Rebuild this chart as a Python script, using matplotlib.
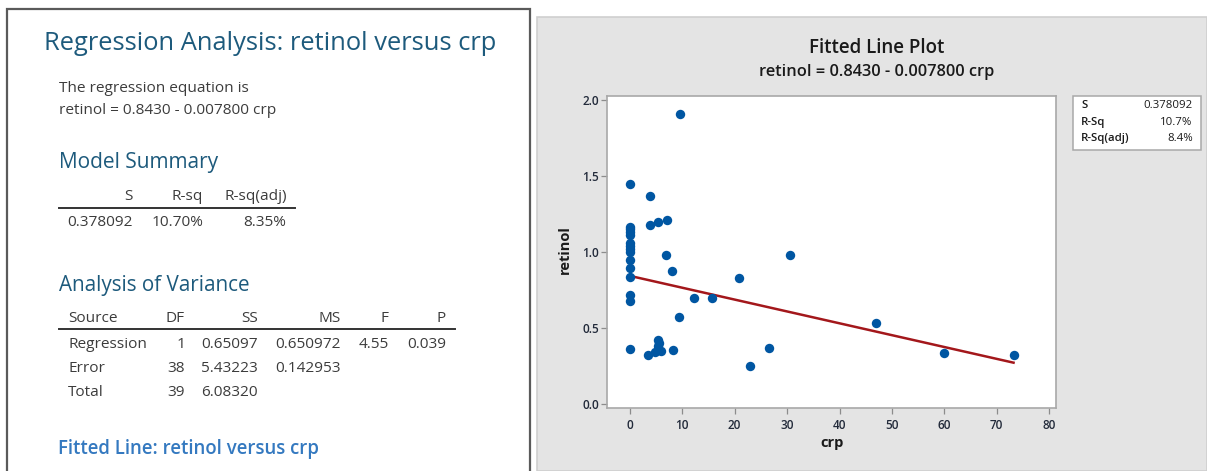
import matplotlib
matplotlib.use('Agg')
import matplotlib.pyplot as plt
from matplotlib.patches import Rectangle
import numpy as np

W, H = 1207, 471

# points
crp = [0, 0, 0, 0, 0, 0, 0, 0, 0, 0, 0, 0, 0, 0, 0,
       9.54, 3.94, 3.94, 5.41, 7.13, 6.87, 7.95, 20.87, 30.5, 12.28,
       15.7, 9.35, 46.9, 60.0, 73.2, 8.27, 26.5, 22.9, 3.5,
       5.4, 5.4, 4.8, 5.9, 5.3, 5.6]
retinol = [1.445, 1.165, 1.15, 1.13, 1.115, 1.06, 1.04, 1.02, 1.0, 0.947,
           0.893, 0.838, 0.715, 0.68, 0.362,
           1.906, 1.368, 1.18, 1.195, 1.21, 0.978, 0.875, 0.829, 0.978, 0.697,
           0.697, 0.572, 0.533, 0.338, 0.322, 0.353, 0.370, 0.252, 0.320,
           0.421, 0.384, 0.344, 0.349, 0.358, 0.40]

b0 = 0.8430
b1 = -0.007800

stats_labels = ['S', 'R-Sq', 'R-Sq(adj)']
stats_values = ['0.378092', '10.7%', '8.4%']

ms_header = ['S', 'R-sq', 'R-sq(adj)']
ms_values = ['0.378092', '10.70%', '8.35%']

anova_header = ['Source', 'DF', 'SS', 'MS', 'F', 'P']
anova_rows = [
    ['Regression', '1', '0.65097', '0.650972', '4.55', '0.039'],
    ['Error', '38', '5.43223', '0.142953', '', ''],
    ['Total', '39', '6.08320', '', '', ''],
]

plt.rcParams['font.family'] = ['Open Sans', 'DejaVu Sans']

fig = plt.figure(figsize=(W / 100, H / 100), dpi=100)
fig.patch.set_facecolor('white')
renderer = fig.canvas.get_renderer()


def fx(x):
    return x / W


def fy(y):
    return 1 - y / H


def put(x, y, s, width=None, size=10, **kw):
    # place text at pixel coords; optionally scale it to a pixel width
    t = fig.text(fx(x), fy(y), s, fontsize=size, va='center', zorder=3, **kw)
    if width:
        bb = t.get_window_extent(renderer)
        t.set_fontsize(size * width / bb.width)
    return t


def hline(x0, x1, y, color='#333333', lw=1.4):
    fig.add_artist(plt.Line2D([fx(x0), fx(x1)], [fy(y), fy(y)], color=color, lw=lw,
                              transform=fig.transFigure))


def box(x0, y0, x1, y1, **kw):
    fig.add_artist(Rectangle((fx(x0), fy(y1)), fx(x1) - fx(x0), fy(y0) - fy(y1),
                             transform=fig.transFigure, zorder=-1, **kw))


# ---- left panel: session window text ----
box(7, 9, 529.5, 480, facecolor='white', edgecolor='#5a5a5a', lw=1.6)

head_c = '#1d5a7c'
body_c = '#3c3c3c'

put(44.5, 43, 'Regression Analysis: retinol versus crp', width=453, size=15, color=head_c)
body = put(59, 88, 'The regression equation is', width=189, size=10, color=body_c)
bs = body.get_fontsize()
put(59, 110, 'retinol = 0.8430 - 0.007800 crp', size=bs, color=body_c)

put(59, 163, 'Model Summary', width=160, size=12, color=head_c)
ms_right = [132.5, 203, 286.5]
for xr, h, v in zip(ms_right, ms_header, ms_values):
    put(xr, 197, h, size=bs, color=body_c, ha='right')
    put(xr, 222, v, size=bs, color=body_c, ha='right')
hline(59, 295, 207.5)

put(59, 286, 'Analysis of Variance', width=190, size=12, color=head_c)
an_right = [185, 258, 341, 389, 446]
put(68, 319, anova_header[0], size=bs, color=body_c)
for xr, h in zip(an_right, anova_header[1:]):
    put(xr, 319, h, size=bs, color=body_c, ha='right')
hline(59, 454.5, 329)
for yy, row in zip([344, 368, 392], anova_rows):
    put(68, yy, row[0], size=bs, color=body_c)
    for xr, v in zip(an_right, row[1:]):
        if v:
            put(xr, yy, v, size=bs, color=body_c, ha='right')

put(58, 449, 'Fitted Line: retinol versus crp', width=262, size=12,
    color='#3479c0', weight='semibold')

# ---- right panel: fitted line plot ----
box(537, 16.5, 1207, 471, facecolor='#e4e4e4', edgecolor='#cfcfcf', lw=1.2)

put(877, 48, 'Fitted Line Plot', width=135, size=11, color='#1a1a1a', weight='semibold', ha='center')
put(877, 72, 'retinol = 0.8430 - 0.007800 crp', width=234, size=9, color='#1a1a1a',
    weight='semibold', ha='center')

ax = fig.add_axes([fx(607.3), fy(408.3), (1056 - 607.3) / W, (408.3 - 96) / H])
ax.set_zorder(1)
ax.set_facecolor('white')
ax.scatter(crp, retinol, s=46, color='#0056a2', linewidths=0, zorder=3)
xs = np.array([min(crp), max(crp)])
ax.plot(xs, b0 + b1 * xs, color='#a3171b', lw=1.8, zorder=2)

ax.set_xlim(-4.3, 81.3)
ax.set_ylim(-0.028, 2.026)
ax.set_xticks(range(0, 81, 10))
ax.set_yticks([0, 0.5, 1.0, 1.5, 2.0])
ax.yaxis.set_major_formatter('{x:.1f}')
for sp in ax.spines.values():
    sp.set_color('#a8a8a8')
    sp.set_linewidth(1.2)
ax.tick_params(direction='out', length=4.5, width=0.9, color='#8c8c8c',
               labelsize=8.5, labelcolor='#222a3a')
ax.tick_params(axis='x', pad=3.5)
ax.tick_params(axis='y', pad=1.5)
for lab in ax.get_xticklabels() + ax.get_yticklabels():
    lab.set_fontweight('semibold')

ax.set_xlabel('crp', fontsize=10.5, fontweight='bold', color='#1a1a1a', va='center')
ax.xaxis.set_label_coords(0.5, -0.111)
ax.set_ylabel('retinol', fontsize=10.5, fontweight='bold', color='#1a1a1a', va='center')
ax.yaxis.set_label_coords(-0.094, 0.507)

# summary box
box(1072.7, 96, 1200.7, 150, facecolor='white', edgecolor='#a8a8a8', lw=1.1)
for yy, lab, val in zip([106, 122.5, 139], stats_labels, stats_values):
    put(1081, yy, lab, size=8.2, color='#1a1a1a', weight='semibold')
    put(1192.7, yy, val, size=8.2, color='#1a1a1a', ha='right')

fig.savefig('out.png', dpi=100)
